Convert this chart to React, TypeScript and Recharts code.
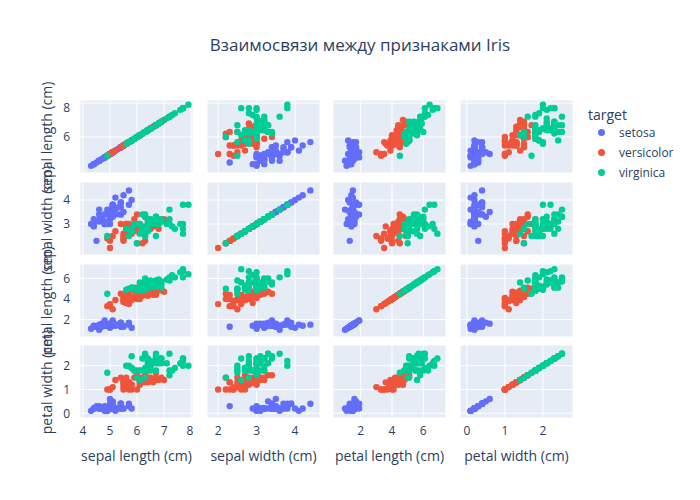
import React from 'react';
import { ScatterChart, Scatter, XAxis, YAxis, CartesianGrid } from 'recharts';

const features = ['sepal length (cm)', 'sepal width (cm)', 'petal length (cm)', 'petal width (cm)'];
const species = ['setosa', 'versicolor', 'virginica'];
const colors = ['#636efa', '#EF553B', '#00cc96'];

const setosa = [
[5.1,3.5,1.4,0.2],[4.9,3.0,1.4,0.2],[4.7,3.2,1.3,0.2],[4.6,3.1,1.5,0.2],[5.0,3.6,1.4,0.2],[5.4,3.9,1.7,0.4],[4.6,3.4,1.4,0.3],[5.0,3.4,1.5,0.2],[4.4,2.9,1.4,0.2],[4.9,3.1,1.5,0.1],
[5.4,3.7,1.5,0.2],[4.8,3.4,1.6,0.2],[4.8,3.0,1.4,0.1],[4.3,3.0,1.1,0.1],[5.8,4.0,1.2,0.2],[5.7,4.4,1.5,0.4],[5.4,3.9,1.3,0.4],[5.1,3.5,1.4,0.3],[5.7,3.8,1.7,0.3],[5.1,3.8,1.5,0.3],
[5.4,3.4,1.7,0.2],[5.1,3.7,1.5,0.4],[4.6,3.6,1.0,0.2],[5.1,3.3,1.7,0.5],[4.8,3.4,1.9,0.2],[5.0,3.0,1.6,0.2],[5.0,3.4,1.6,0.4],[5.2,3.5,1.5,0.2],[5.2,3.4,1.4,0.2],[4.7,3.2,1.6,0.2],
[4.8,3.1,1.6,0.2],[5.4,3.4,1.5,0.4],[5.2,4.1,1.5,0.1],[5.5,4.2,1.4,0.2],[4.9,3.1,1.5,0.2],[5.0,3.2,1.2,0.2],[5.5,3.5,1.3,0.2],[4.9,3.6,1.4,0.1],[4.4,3.0,1.3,0.2],[5.1,3.4,1.5,0.2],
[5.0,3.5,1.3,0.3],[4.5,2.3,1.3,0.3],[4.4,3.2,1.3,0.2],[5.0,3.5,1.6,0.6],[5.1,3.8,1.9,0.4],[4.8,3.0,1.4,0.3],[5.1,3.8,1.6,0.2],[4.6,3.2,1.4,0.2],[5.3,3.7,1.5,0.2],[5.0,3.3,1.4,0.2]];
const versicolor = [
[7.0,3.2,4.7,1.4],[6.4,3.2,4.5,1.5],[6.9,3.1,4.9,1.5],[5.5,2.3,4.0,1.3],[6.5,2.8,4.6,1.5],[5.7,2.8,4.5,1.3],[6.3,3.3,4.7,1.6],[4.9,2.4,3.3,1.0],[6.6,2.9,4.6,1.3],[5.2,2.7,3.9,1.4],
[5.0,2.0,3.5,1.0],[5.9,3.0,4.2,1.5],[6.0,2.2,4.0,1.0],[6.1,2.9,4.7,1.4],[5.6,2.9,3.6,1.3],[6.7,3.1,4.4,1.4],[5.6,3.0,4.5,1.5],[5.8,2.7,4.1,1.0],[6.2,2.2,4.5,1.5],[5.6,2.5,3.9,1.1],
[5.9,3.2,4.8,1.8],[6.1,2.8,4.0,1.3],[6.3,2.5,4.9,1.5],[6.1,2.8,4.7,1.2],[6.4,2.9,4.3,1.3],[6.6,3.0,4.4,1.4],[6.8,2.8,4.8,1.4],[6.7,3.0,5.0,1.7],[6.0,2.9,4.5,1.5],[5.7,2.6,3.5,1.0],
[5.5,2.4,3.8,1.1],[5.5,2.4,3.7,1.0],[5.8,2.7,3.9,1.2],[6.0,2.7,5.1,1.6],[5.4,3.0,4.5,1.5],[6.0,3.4,4.5,1.6],[6.7,3.1,4.7,1.5],[6.3,2.3,4.4,1.3],[5.6,3.0,4.1,1.3],[5.5,2.5,4.0,1.3],
[5.5,2.6,4.4,1.2],[6.1,3.0,4.6,1.4],[5.8,2.6,4.0,1.2],[5.0,2.3,3.3,1.0],[5.6,2.7,4.2,1.3],[5.7,3.0,4.2,1.2],[5.7,2.9,4.2,1.3],[6.2,2.9,4.3,1.3],[5.1,2.5,3.0,1.1],[5.7,2.8,4.1,1.3]];
const virginica = [
[6.3,3.3,6.0,2.5],[5.8,2.7,5.1,1.9],[7.1,3.0,5.9,2.1],[6.3,2.9,5.6,1.8],[6.5,3.0,5.8,2.2],[7.6,3.0,6.6,2.1],[4.9,2.5,4.5,1.7],[7.3,2.9,6.3,1.8],[6.7,2.5,5.8,1.8],[7.2,3.6,6.1,2.5],
[6.5,3.2,5.1,2.0],[6.4,2.7,5.3,1.9],[6.8,3.0,5.5,2.1],[5.7,2.5,5.0,2.0],[5.8,2.8,5.1,2.4],[6.4,3.2,5.3,2.3],[6.5,3.0,5.5,1.8],[7.7,3.8,6.7,2.2],[7.7,2.6,6.9,2.3],[6.0,2.2,5.0,1.5],
[6.9,3.2,5.7,2.3],[5.6,2.8,4.9,2.0],[7.7,2.8,6.7,2.0],[6.3,2.7,4.9,1.8],[6.7,3.3,5.7,2.1],[7.2,3.2,6.0,1.8],[6.2,2.8,4.8,1.8],[6.1,3.0,4.9,1.8],[6.4,2.8,5.6,2.1],[7.2,3.0,5.8,1.6],
[7.4,2.8,6.1,1.9],[7.9,3.8,6.4,2.0],[6.4,2.8,5.6,2.2],[6.3,2.8,5.1,1.5],[6.1,2.6,5.6,1.4],[7.7,3.0,6.1,2.3],[6.3,3.4,5.6,2.4],[6.4,3.1,5.5,1.8],[6.0,3.0,4.8,1.8],[6.9,3.1,5.4,2.1],
[6.7,3.1,5.6,2.4],[6.9,3.1,5.1,2.3],[5.8,2.7,5.1,1.9],[6.8,3.2,5.9,2.3],[6.7,3.3,5.7,2.5],[6.7,3.0,5.2,2.3],[6.3,2.5,5.0,1.9],[6.5,3.0,5.2,2.0],[6.2,3.4,5.4,2.3],[5.9,3.0,5.1,1.8]];
const groups = [setosa, versicolor, virginica];

const xTicks = [[4,5,6,7,8],[2,3,4],[2,4,6],[0,1,2]];
const yTicks = [[4,5,6,7,8],[2,3,4],[2,4,6],[0,1,2]];
const xDomains: [number, number][] = [[3.89,8.07],[1.71,4.65],[0.23,7.45],[-0.18,2.79]];
const yDomains: [number, number][] = [[3.88,8.18],[1.71,4.75],[0.3,7.4],[-0.2,2.87]];

const colLeft = [80, 207, 333, 460];
const rowTop = [100, 182, 264, 345];
const cw = 113, ch = 73;
const txt = '#2a3f5f';
const font = '"Open Sans", Verdana, Arial, sans-serif';

function Cell({ r, c }: { r: number; c: number }) {
  const yw = c === 0 ? 30 : 0;
  const xh = r === 3 ? 22 : 0;
  return (
    <div style={{ position: 'absolute', left: colLeft[c] - yw, top: rowTop[r] }}>
      <ScatterChart width={cw + yw} height={ch + xh} margin={{ top: 0, right: 0, bottom: 0, left: 0 }}>
        <CartesianGrid stroke="#ffffff" fill="#E5ECF6" strokeWidth={1} />
        <XAxis type="number" dataKey="x" domain={xDomains[c]} ticks={xTicks[c]} allowDataOverflow hide={r !== 3}
          height={22} tickLine={false} axisLine={false} tick={{ fill: txt, fontSize: 12 }} tickMargin={2} />
        <YAxis type="number" dataKey="y" domain={yDomains[r]} ticks={yTicks[r]} allowDataOverflow hide={c !== 0}
          width={30} tickLine={false} axisLine={false} tick={{ fill: txt, fontSize: 12 }} tickMargin={4} />
        {groups.map((g, i) => (
          <Scatter key={i} data={g.map(row => ({ x: row[c], y: row[r] }))} fill={colors[i]} isAnimationActive={false}
            shape={(p: any) => <circle cx={p.cx} cy={p.cy} r={3.2} fill={colors[i]} />} />
        ))}
      </ScatterChart>
    </div>
  );
}

export default function App() {
  const cells = [];
  for (let r = 0; r < 4; r++) for (let c = 0; c < 4; c++) cells.push(<Cell key={`${r}-${c}`} r={r} c={c} />);
  return (
    <div style={{ position: 'fixed', left: 0, top: 0, width: 700, height: 500, background: '#fff', fontFamily: font, color: txt }}>
      <div style={{ position: 'absolute', top: 33, left: 0, width: 720, textAlign: 'center', fontSize: 17 }}>
        Взаимосвязи между признаками Iris
      </div>
      {cells}
      {features.map((f, i) => (
        <div key={'x' + i} style={{ position: 'absolute', top: 446, left: colLeft[i] + cw / 2 - 70, width: 140, textAlign: 'center', fontSize: 14, whiteSpace: 'nowrap' }}>{f}</div>
      ))}
      {features.map((f, i) => (
        <div key={'y' + i} style={{ position: 'absolute', top: rowTop[i] + ch / 2 - 10, left: 47 - 70, width: 140, height: 20, lineHeight: '20px', textAlign: 'center', fontSize: 14, whiteSpace: 'nowrap', transform: 'rotate(-90deg)' }}>{f}</div>
      ))}
      <div style={{ position: 'absolute', left: 588, top: 105, fontSize: 14 }}>target</div>
      {species.map((s, i) => (
        <div key={s} style={{ position: 'absolute', left: 598, top: 124 + i * 20, fontSize: 12, display: 'flex', alignItems: 'center' }}>
          <span style={{ display: 'inline-block', width: 7, height: 7, borderRadius: 4, background: colors[i], marginRight: 14 }} />
          {s}
        </div>
      ))}
    </div>
  );
}
